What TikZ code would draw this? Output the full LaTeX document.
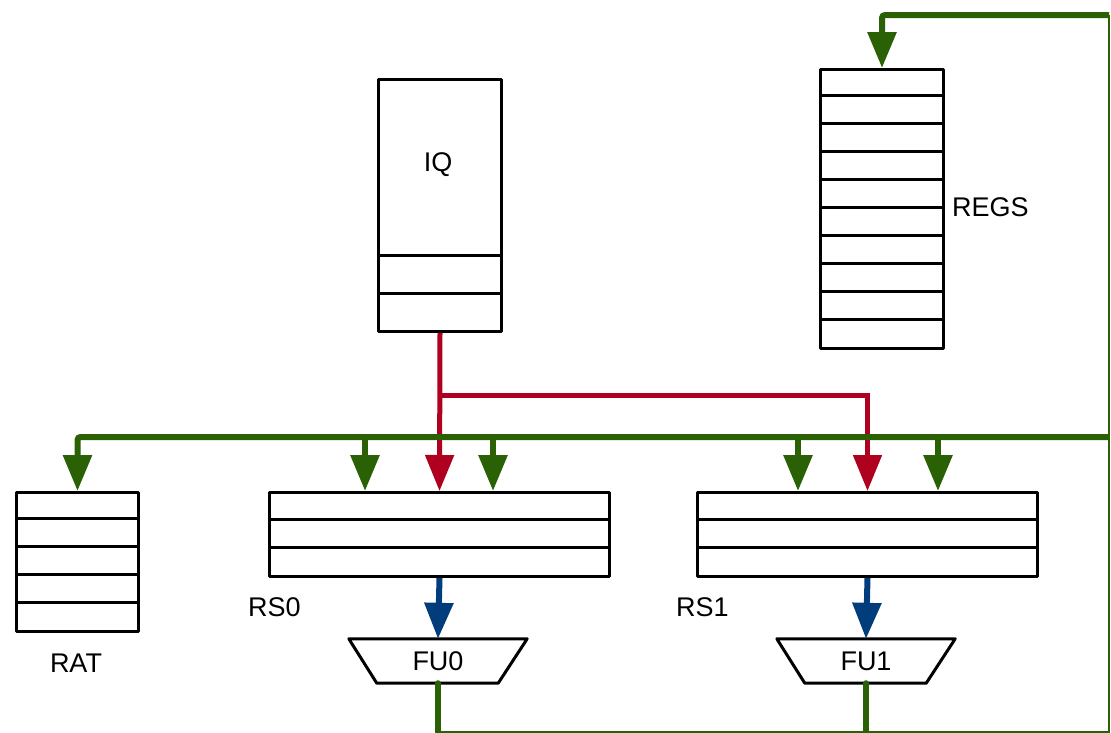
\documentclass[tikz,border=0pt]{standalone}
\usepackage{fontspec}
\setmainfont{Liberation Sans}
\usetikzlibrary{arrows.meta}
\definecolor{busgreen}{HTML}{2B6105}
\definecolor{issuered}{HTML}{B0001F}
\definecolor{fublue}{HTML}{003D7A}
\begin{document}
\begin{tikzpicture}[x=1pt,y=-1pt,
  boxline/.style={line width=3pt,black,line join=round},
  box/.style={draw,boxline,inner sep=0pt,anchor=north west},
  lbl/.style={font=\fontsize{27}{30}\selectfont,inner sep=0pt},
  fulbl/.style={lbl,minimum width=178pt,minimum height=44pt},
  tip/.style={-{Triangle[length=36pt,width=28pt]}},
  greenbus/.style={line width=6pt,busgreen},
  greenthin/.style={line width=2pt,busgreen},
  greenarrow/.style={greenbus,tip},
  redline/.style={line width=5pt,issuered},
  redarrow/.style={redline,tip},
  bluearrow/.style={line width=6pt,fublue,tip}]
\useasboundingbox (0,0) rectangle (1111,732);

% instruction queue
\node[box,minimum width=123pt,minimum height=252pt] (iq) at (377,78) {};
\foreach \y in {255,293} \draw[boxline] (377,\y) -- (500,\y);
\node[lbl] (iqlbl) at (438,165) {IQ};

% register file, ten entries
\node[box,minimum width=123pt,minimum height=279pt] (regs) at (819,68) {};
\foreach \k in {1,...,9} \draw[boxline] (819,68+27.9*\k) -- (942,68+27.9*\k);
\node[lbl,anchor=west] (regslbl) at (952,207) {REGS};

% rename table, five entries
\node[box,minimum width=122pt,minimum height=139pt] (rat) at (15,491) {};
\foreach \k in {1,...,4} \draw[boxline] (15,491+27.8*\k) -- (137,491+27.8*\k);
\node[lbl] (ratlbl) at (76,663) {RAT};

% reservation stations
\node[box,minimum width=340pt,minimum height=84pt] (rs0) at (268,491) {};
\node[box,minimum width=340pt,minimum height=84pt] (rs1) at (696,491) {};
\foreach \k in {1,2} {
  \draw[boxline] (268,491+28*\k) -- (608,491+28*\k);
  \draw[boxline] (696,491+28*\k) -- (1036,491+28*\k);
}
\node[lbl,anchor=west] (rs0lbl) at (248,607) {RS0};
\node[lbl,anchor=west] (rs1lbl) at (676,607) {RS1};

% functional units
\node[fulbl] (fu0) at (438,661) {FU0};
\node[fulbl] (fu1) at (866,661) {FU1};
\foreach \f in {fu0,fu1}
  \draw[boxline] (\f.north west) -- (\f.north east)
    -- ([xshift=-29pt]\f.south east) -- ([xshift=28pt]\f.south west) -- cycle;

% issue paths
\coordinate (split) at (438,395);
\draw[redarrow] (iq.south) -- (rs0.north);
\draw[redarrow] (split) -| (rs1.north);

% dispatch to functional units
\draw[bluearrow] (rs0.south) -- (fu0.north);
\draw[bluearrow] (rs1.south) -- (fu1.north);

% result bus
\coordinate (busR) at (1109,437);
\coordinate (topR) at (1109,15);
\coordinate (botR) at (1109,732);
\coordinate (bot0) at (438,732);
\coordinate (bot1) at (866,732);
\draw[greenthin] (bot0) -- (botR) -- (topR);
\draw[greenbus,line cap=round] (fu0.south) -- (bot0);
\draw[greenbus,line cap=round] (fu1.south) -- (bot1);
\draw[greenarrow,rounded corners=3pt] (topR) -| (regs.north);
\draw[greenarrow,rounded corners=3pt] (busR) -| (rat.north);
\foreach \x/\r in {365/rs0,493/rs0,798/rs1,938/rs1} {
  \coordinate (tap) at (\x,437);
  \draw[greenarrow] (tap) -- (tap |- \r.north);
}
\end{tikzpicture}
\end{document}
